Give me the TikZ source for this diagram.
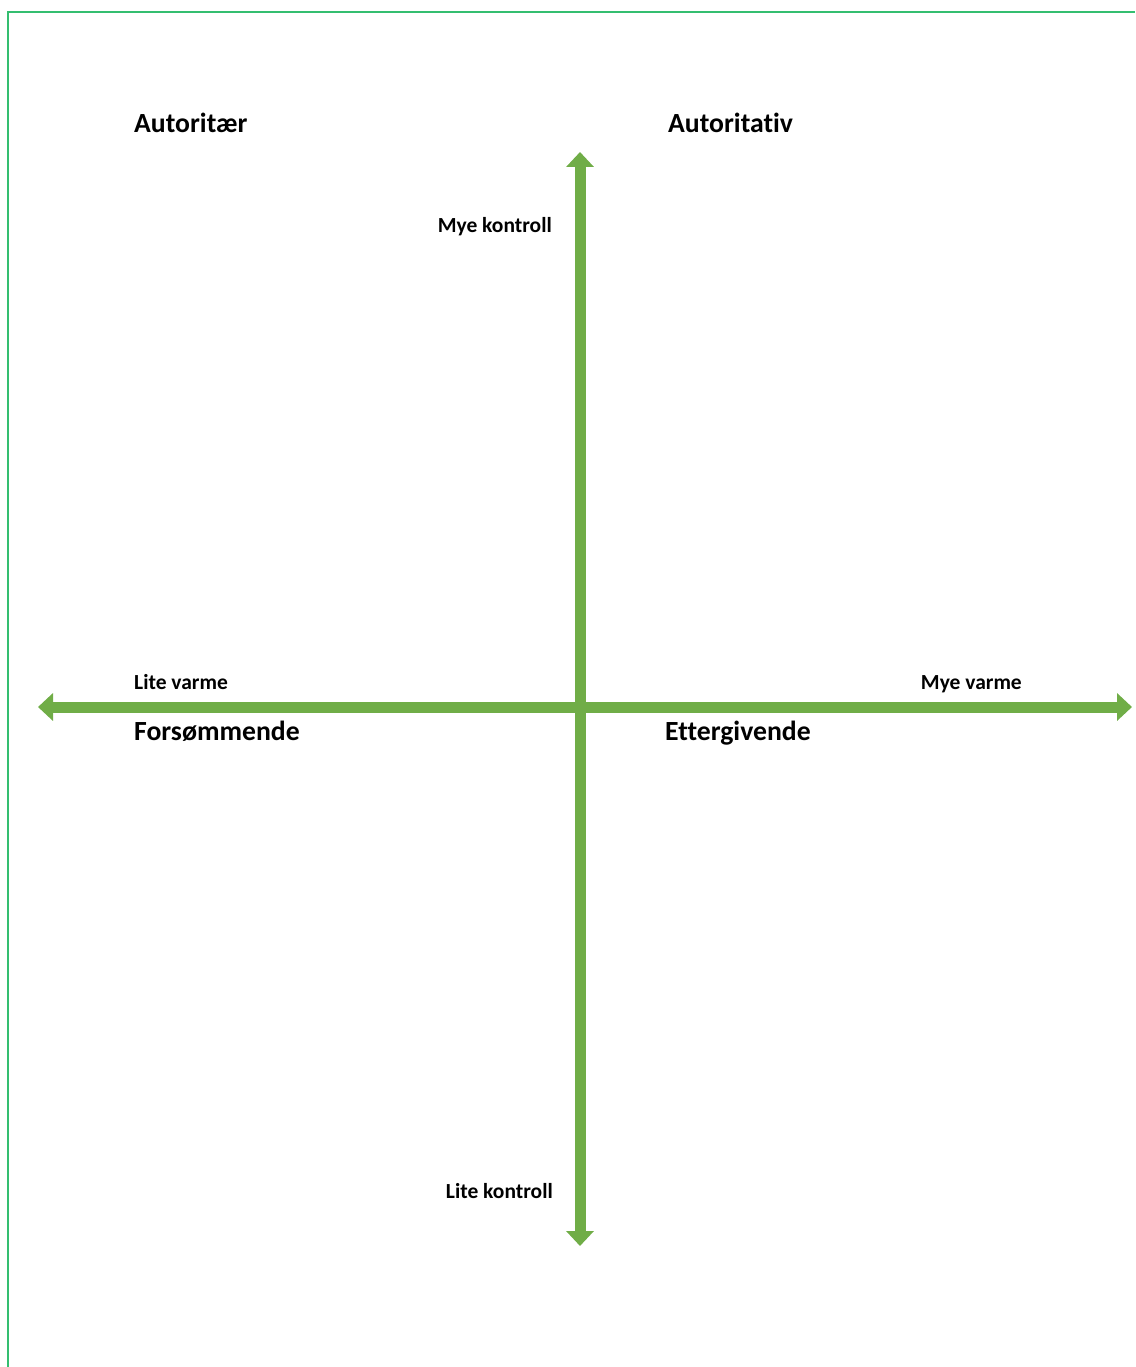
\documentclass[tikz,border=0pt]{standalone}
\usepackage{fontspec}
\setmainfont{Carlito}[Ligatures=NoCommon]
\usepackage{tikz}
\usetikzlibrary{positioning,arrows.meta}
\definecolor{framegreen}{RGB}{52,190,112}
\definecolor{axisgreen}{RGB}{112,173,71}
\tikzstyle{axis}=[draw=axisgreen,line width=11pt,{Triangle[width=27pt,length=15pt]}-{Triangle[width=27pt,length=15pt]}]
\tikzstyle{quadrant}=[inner sep=0pt,font=\fontsize{27.7}{32}\selectfont\bfseries]
\tikzstyle{pole}=[inner sep=0pt,font=\fontsize{21.5}{25}\selectfont\bfseries]

\begin{document}
\begin{tikzpicture}[x=1pt,y=-1pt]
  \useasboundingbox (0,0) rectangle (1135,1367);
  \draw[framegreen,line width=2.5pt] (8,1367) -- (8,12) -- (1135,12);

  % end points of the axes
  \coordinate (top) at (580,152);
  \coordinate (bottom) at (580,1246);
  \coordinate (left) at (38,707);
  \coordinate (right) at (1132,707);

  \draw[axis] (bottom) -- (top);
  \draw[axis] (left) -- (right);

  % quadrant names
  \node[quadrant,anchor=base west] (autoritaer) at (134,133) {Autoritær};
  \node[quadrant,anchor=base west] (autoritativ) at (668,133) {Autoritativ};
  \node[quadrant,anchor=base west] (forsommende) at (134,740) {Forsømmende};
  \node[quadrant,anchor=base west] (ettergivende) at (665,740) {Ettergivende};

  % axis ends
  \node[pole,anchor=base east] (myekontroll) at (552,233) {Mye kontroll};
  \node[pole,anchor=base east] (litekontroll) at (553,1198) {Lite kontroll};
  \node[pole,anchor=base west] (litevarme) at (134,689) {Lite varme};
  \node[pole,anchor=base east] (myevarme) at (1022,689) {Mye varme};
\end{tikzpicture}
\end{document}
